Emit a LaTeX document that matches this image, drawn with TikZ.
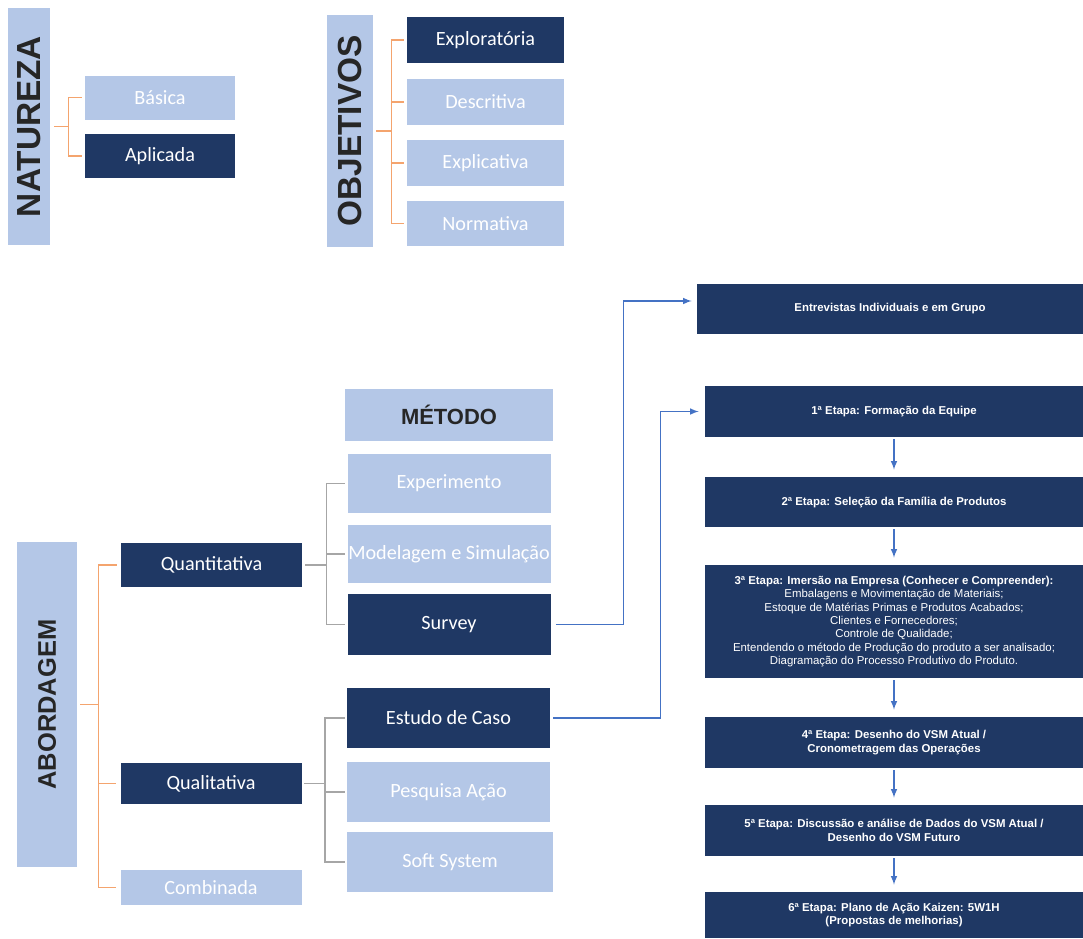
\documentclass[tikz,border=0pt]{standalone}
\usepackage{fontspec}
\setmainfont{Carlito}
\newfontfamily\arialfont{Liberation Sans}
\usetikzlibrary{arrows, positioning, calc}
\definecolor{navyblue}{RGB}{31, 56, 100}
\definecolor{paleblue}{RGB}{180, 199, 231}
\definecolor{bracketorange}{RGB}{244, 164, 110}
\definecolor{bracketgray}{RGB}{166, 166, 166}
\definecolor{arrowblue}{RGB}{68, 114, 196}
\definecolor{titlegray}{RGB}{38, 38, 38}
\tikzstyle{title} = [rectangle, fill=paleblue, text=titlegray, font=\arialfont\bfseries\fontsize{19}{19}\selectfont, inner sep=0pt]
\tikzstyle{lightbox} = [rectangle, fill=paleblue, text=white, font=\fontsize{11.5}{13}\selectfont, inner sep=0pt, minimum width=3cm, minimum height=0.88cm]
\tikzstyle{darkbox} = [lightbox, fill=navyblue]
\tikzstyle{methodbox} = [lightbox, minimum width=4.06cm, minimum height=1.2cm]
\tikzstyle{stepbox} = [rectangle, fill=navyblue, text=white, font=\arialfont\bfseries\fontsize{6.5}{7.6}\selectfont, align=center, inner sep=0pt, minimum width=7.56cm, minimum height=1.02cm]
\tikzstyle{orangeline} = [line width=0.9pt, bracketorange]
\tikzstyle{grayline} = [line width=0.9pt, bracketgray]
\tikzstyle{arrow} = [line width=0.7pt, ->, >=latex, arrowblue]

\begin{document}
\begin{tikzpicture}
\useasboundingbox (0,0) rectangle (21.66,-18.76);

% Natureza
\node[title, rotate=90, minimum width=4.74cm, minimum height=0.84cm] (natureza) at (0.58,-2.53) {NATUREZA};
\node[lightbox] (basica) at (3.2,-1.95) {Básica};
\node[darkbox] (aplicada) at (3.2,-3.12) {Aplicada};
\draw[orangeline] ([xshift=0.08cm]natureza.south) -- ++(0.28,0) coordinate (nj);
\draw[orangeline] (nj) |- ([xshift=-0.06cm]basica.west);
\draw[orangeline] (nj) |- ([xshift=-0.06cm]aplicada.west);

% Objetivos
\node[title, rotate=90, minimum width=4.64cm, minimum height=0.92cm] (objetivos) at (7.0,-2.62) {OBJETIVOS};
\node[darkbox, minimum width=3.14cm, minimum height=0.92cm] (exploratoria) at (9.71,-0.8) {Exploratória};
\node[lightbox, minimum width=3.14cm, minimum height=0.92cm] (descritiva) at (9.71,-2.04) {Descritiva};
\node[lightbox, minimum width=3.14cm, minimum height=0.92cm] (explicativa) at (9.71,-3.26) {Explicativa};
\node[lightbox, minimum width=3.14cm, minimum height=0.9cm] (normativa) at (9.71,-4.47) {Normativa};
\draw[orangeline] ([xshift=0.06cm]objetivos.south) -- ++(0.30,0) coordinate (oj);
\foreach \n in {exploratoria, descritiva, explicativa, normativa}
  \draw[orangeline] (oj) |- ([xshift=-0.06cm]\n.west);

% Abordagem
\node[title, rotate=90, minimum width=6.5cm, minimum height=1.2cm, font=\arialfont\bfseries\fontsize{14.5}{15}\selectfont] (abordagem) at (0.94,-14.09) {ABORDAGEM};
\node[darkbox, minimum width=3.62cm] (quanti) at (4.23,-11.3) {Quantitativa};
\node[darkbox, minimum width=3.62cm, minimum height=0.82cm] (quali) at (4.22,-15.67) {Qualitativa};
\node[lightbox, minimum width=3.62cm, minimum height=0.7cm] (combinada) at (4.22,-17.75) {Combinada};
\draw[orangeline] ([xshift=0.06cm]abordagem.south) -- ++(0.36,0) coordinate (aj);
\foreach \n in {quanti, quali, combinada}
  \draw[orangeline] (aj) |- ([xshift=-0.08cm]\n.west);

% Metodo
\node[title, minimum width=4.16cm, minimum height=1.04cm, font=\arialfont\bfseries\fontsize{12.5}{13}\selectfont] (metodo) at (8.98,-8.3) {MÉTODO};
\node[methodbox, minimum height=1.18cm] (experimento) at (8.98,-9.67) {Experimento};
\node[methodbox, minimum height=1.16cm] (modelagem) at (8.98,-11.08) {Modelagem e Simulação};
\node[methodbox, fill=navyblue, minimum height=1.22cm] (survey) at (8.98,-12.49) {Survey};
\node[methodbox, fill=navyblue] (estudo) at (8.97,-14.36) {Estudo de Caso};
\node[methodbox] (pesquisa) at (8.97,-15.84) {Pesquisa Ação};
\node[methodbox, minimum width=4.12cm] (soft) at (9.0,-17.24) {Soft System};
\draw[grayline] ([xshift=0.06cm]quanti.east) -- ++(0.42,0) coordinate (qj);
\foreach \n in {experimento, modelagem, survey}
  \draw[grayline] (qj) |- ([xshift=-0.04cm]\n.west);
\draw[grayline] ([xshift=0.04cm]quali.east) -- ++(0.42,0) coordinate (lj);
\foreach \n in {estudo, pesquisa, soft}
  \draw[grayline] (lj) |- ([xshift=-0.04cm]\n.west);

% Etapas
\node[stepbox, minimum width=7.72cm, minimum height=1.0cm] (entrevistas) at (17.8,-6.18) {Entrevistas Individuais e em Grupo};
\node[stepbox] (step1) at (17.88,-8.23) {1ª Etapa: Formação da Equipe};
\node[stepbox, minimum height=1.0cm] (step2) at (17.88,-10.04) {2ª Etapa: Seleção da Família de Produtos};
\node[stepbox, minimum height=2.26cm] (step3) at (17.88,-12.43) {3ª Etapa: Imersão na Empresa (Conhecer e Compreender):\\
  \mdseries Embalagens e Movimentação de Materiais;\\
  \mdseries Estoque de Matérias Primas e Produtos Acabados;\\
  \mdseries Clientes e Fornecedores;\\
  \mdseries Controle de Qualidade;\\
  \mdseries Entendendo o método de Produção do produto a ser analisado;\\
  \mdseries Diagramação do Processo Produtivo do Produto.};
\node[stepbox] (step4) at (17.88,-14.85) {4ª Etapa: Desenho do VSM Atual /\\ Cronometragem das Operações};
\node[stepbox] (step5) at (17.88,-16.61) {5ª Etapa: Discussão e análise de Dados do VSM Atual /\\ Desenho do VSM Futuro};
\node[stepbox, minimum height=0.92cm] (step6) at (17.88,-18.3) {6ª Etapa: Plano de Ação Kaizen: 5W1H\\ (Propostas de melhorias)};
\foreach \a/\b in {step1/step2, step2/step3, step3/step4, step4/step5, step5/step6}
  \draw[arrow, shorten <=0.04cm, shorten >=0.14cm] (\a) -- (\b);

% Links
\draw[arrow] ([xshift=0.1cm]survey.east) -- ++(1.36,0) |- ([xshift=-0.1cm,yshift=0.16cm]entrevistas.west);
\draw[arrow] ([xshift=0.06cm]estudo.east) -- ++(2.14,0) |- ([xshift=-0.12cm]step1.west);
\end{tikzpicture}
\end{document}
